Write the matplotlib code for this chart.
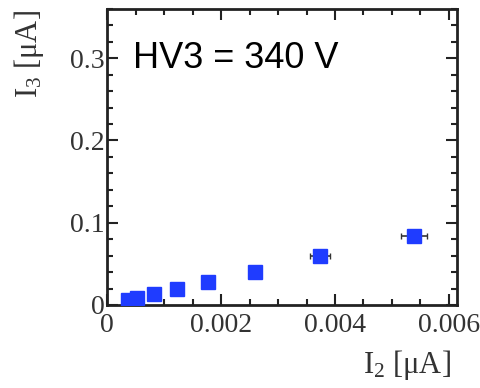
import matplotlib
matplotlib.use("Agg")
import matplotlib.pyplot as plt
from matplotlib.ticker import MultipleLocator, FixedLocator, FixedFormatter

plt.rcParams['mathtext.fontset'] = 'custom'
plt.rcParams['mathtext.rm'] = 'Liberation Serif'
plt.rcParams['mathtext.it'] = 'Liberation Serif:italic'
plt.rcParams['mathtext.default'] = 'rm'

# Data
i2 = [0.00037, 0.00053, 0.00082, 0.00123, 0.00178, 0.0026, 0.00374, 0.00539]
i3 = [0.006, 0.008, 0.013, 0.019, 0.028, 0.040, 0.060, 0.084]
i2_err = [0.00005, 0.00005, 0.00005, 0.00005, 0.00005, 0.00006, 0.00018, 0.00023]
x_ticks = [0, 0.002, 0.004, 0.006]
x_tick_labels = ["0", "0.002", "0.004", "0.006"]
y_ticks = [0, 0.1, 0.2, 0.3]
y_tick_labels = ["0", "0.1", "0.2", "0.3"]
annotation = "HV3 = 340 V"

fig = plt.figure(figsize=(4.8, 3.88), dpi=100)
ax = fig.add_axes([0.223, 0.214, 0.729, 0.763])

ax.errorbar(i2, i3, xerr=i2_err, fmt='s', color='#1f3cff', ecolor='#333333',
            markersize=10, elinewidth=1.2, capsize=2, zorder=3)

ax.set_xlim(0, 0.00614)
ax.set_ylim(0, 0.36)
ax.xaxis.set_major_locator(FixedLocator(x_ticks))
ax.xaxis.set_major_formatter(FixedFormatter(x_tick_labels))
ax.yaxis.set_major_locator(FixedLocator(y_ticks))
ax.yaxis.set_major_formatter(FixedFormatter(y_tick_labels))
ax.xaxis.set_minor_locator(MultipleLocator(0.0005))
ax.yaxis.set_minor_locator(MultipleLocator(0.02))

serif = ['Liberation Serif', 'DejaVu Serif']
ax.tick_params(which='both', direction='in', top=True, right=True, width=1.5, color='#222222')
ax.tick_params(which='major', length=8, labelsize=20)
ax.tick_params(axis='x', which='major', pad=6)
ax.tick_params(axis='y', which='major', pad=2)
ax.tick_params(which='minor', length=4)
for lbl in ax.get_xticklabels() + ax.get_yticklabels():
    lbl.set_fontfamily(serif)
    lbl.set_color('#333333')
for s in ax.spines.values():
    s.set_linewidth(2)
    s.set_color('#222222')

ax.text(0.075, 0.834, annotation, transform=ax.transAxes, fontsize=26,
        family=['Liberation Sans', 'DejaVu Sans'], va='center', ha='left', color='black')

fig.text(0.94, 0.06, "I$_2$ [μA]", fontsize=22, family=serif, ha='right', va='center', color='#333333')
fig.text(0.06, 0.975, "I$_3$ [μA]", fontsize=22, family=serif, ha='center', va='top',
         rotation=90, color='#333333')

fig.savefig("out.png", dpi=100)
